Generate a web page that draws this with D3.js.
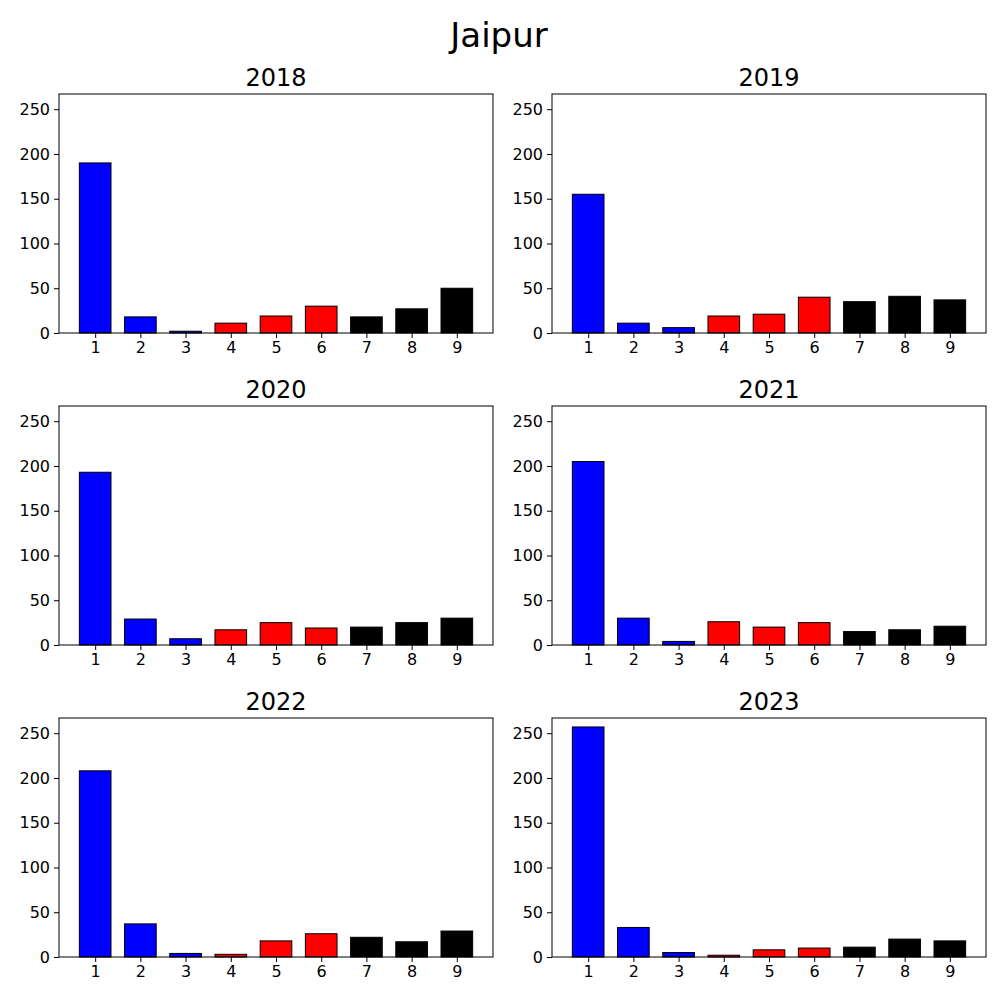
<!DOCTYPE html>
<html><head><meta charset="utf-8">
<script src="https://cdn.jsdelivr.net/npm/d3@7"></script>
<style>body{margin:0;background:#fff}</style>
</head><body>
<script>
const years = ['2018', '2019', '2020', '2021', '2022', '2023'];
const categories = [1, 2, 3, 4, 5, 6, 7, 8, 9];
const barColors = ['blue', 'blue', 'blue', 'red', 'red', 'red', 'black', 'black', 'black'];
const counts = [
    [190, 18, 2, 11, 19, 30, 18, 27, 50],
    [155, 11, 6, 19, 21, 40, 35, 41, 37],
    [193, 29, 7, 17, 25, 19, 20, 25, 30],
    [205, 30, 4, 26, 20, 25, 15, 17, 21],
    [208, 37, 4, 3, 18, 26, 22, 17, 29],
    [257, 33, 5, 2, 8, 10, 11, 20, 18]
];
const yTicks = [0, 50, 100, 150, 200, 250];

const svg = d3.select('body').append('svg')
    .attr('width', 1000).attr('height', 1000)
    .style('font-family', 'DejaVu Sans');

svg.append('text').attr('x', 499).attr('y', 47)
    .attr('text-anchor', 'middle').attr('font-size', 34).text('Jaipur');

const colX = [59, 552], rowY = [94, 406, 718];
const width = 434, height = 239;

const x = d3.scaleLinear().domain([0.2, 9.8]).range([0, width]);
const y = d3.scaleLinear().domain([0, 267]).range([height, 0]);
const bw = x(0.7) - x(0);

years.forEach((yr, i) => {
    const g = svg.append('g')
        .attr('transform', `translate(${colX[i % 2]}, ${rowY[Math.floor(i / 2)]})`);

    g.selectAll('rect.bar').data(counts[i]).join('rect')
        .attr('x', (d, j) => x(categories[j]) - bw / 2)
        .attr('y', d => y(d))
        .attr('width', bw)
        .attr('height', d => y(0) - y(d))
        .attr('fill', (d, j) => barColors[j])
        .attr('stroke', 'black').attr('stroke-width', 1);

    const xa = g.append('g').attr('transform', `translate(0, ${height})`)
        .call(d3.axisBottom(x).tickValues(categories).tickSize(5).tickPadding(4));
    const ya = g.append('g')
        .call(d3.axisLeft(y).tickValues(yTicks).tickSize(5).tickPadding(4));
    [xa, ya].forEach(a => {
        a.select('.domain').remove();
        a.selectAll('text').attr('font-size', 16).attr('font-family', 'DejaVu Sans');
    });

    g.append('rect').attr('width', width).attr('height', height)
        .attr('fill', 'none').attr('stroke', 'black').attr('stroke-width', 1);

    g.append('text').attr('x', width / 2).attr('y', -8)
        .attr('text-anchor', 'middle').attr('font-size', 24).text(yr);
});
</script>
</body></html>
